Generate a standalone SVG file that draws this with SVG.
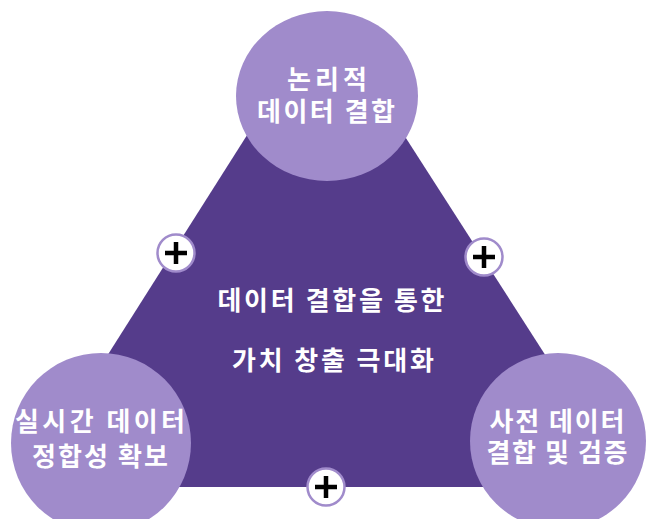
<svg xmlns="http://www.w3.org/2000/svg" width="650" height="519" viewBox="0 0 650 519">
<style>
.tri{fill:#553C8B}
.big{fill:#A08BCB}
.plus{fill:#FFFFFF;stroke:#A08BCB;stroke-width:2.5}
.pl{stroke:#000;stroke-width:4.5;stroke-linecap:butt}
.t{font-family:"Noto Sans CJK KR","Noto Sans",sans-serif;font-weight:bold;fill:#FFFFFF;text-anchor:middle;font-size:26px}
</style>
<rect width="650" height="519" fill="#FFFFFF"/>
<g id="center">
<polygon class="tri" points="325,12 24,487 630,487"/>
<text class="t" x="331" y="310" textLength="227" lengthAdjust="spacing">데이터 결합을 통한</text>
<text class="t" x="333" y="370" textLength="202" lengthAdjust="spacing">가치 창출 극대화</text>
</g>
<g id="connectors">
<g id="plus-left"><circle class="plus" cx="176" cy="253" r="18.5"/><path class="pl" d="M165,253H187M176,242V264"/></g>
<g id="plus-right"><circle class="plus" cx="484" cy="257" r="18.5"/><path class="pl" d="M473,257H495M484,246V268"/></g>
<g id="plus-bottom"><circle class="plus" cx="326" cy="487" r="18.5"/><path class="pl" d="M315,487H337M326,476V498"/></g>
</g>
<g id="node-top">
<ellipse class="big" cx="327" cy="96" rx="91" ry="85"/>
<text class="t" x="327" y="89" textLength="80" lengthAdjust="spacing">논리적</text>
<text class="t" x="326" y="121" textLength="138" lengthAdjust="spacing">데이터 결합</text>
</g>
<g id="node-left">
<circle class="big" cx="101" cy="443" r="90"/>
<text class="t" x="100" y="431" textLength="170" lengthAdjust="spacing">실시간 데이터</text>
<text class="t" x="100" y="466" textLength="136" lengthAdjust="spacing">정합성 확보</text>
</g>
<g id="node-right">
<circle class="big" cx="558" cy="441" r="88"/>
<text class="t" x="557" y="431" textLength="135" lengthAdjust="spacing">사전 데이터</text>
<text class="t" x="557" y="462" textLength="141" lengthAdjust="spacing">결합 및 검증</text>
</g>
</svg>
